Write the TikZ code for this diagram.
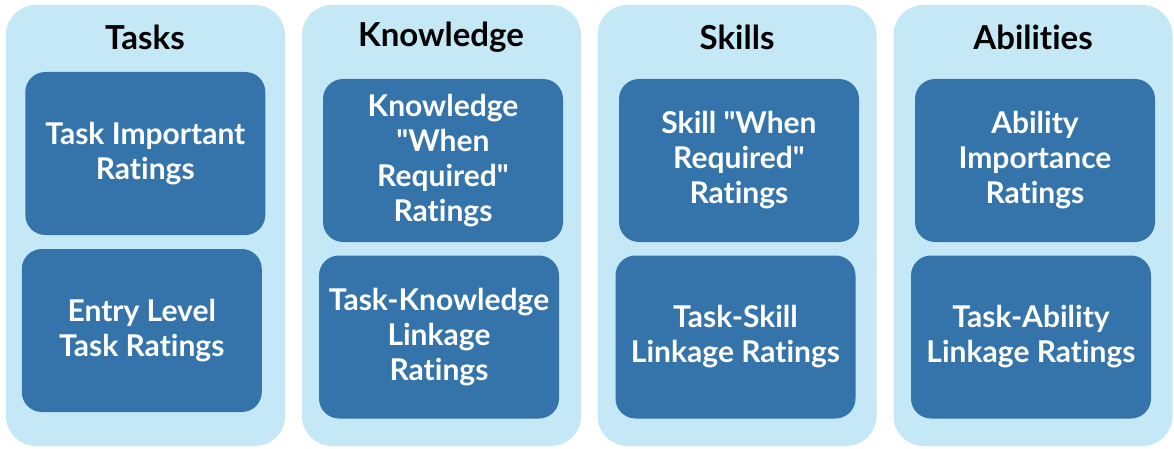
\documentclass[tikz,border=0pt]{standalone}
\usepackage{fontspec}
\setmainfont{Lato}[Ligatures={TeXOff,NoCommon}]
\definecolor{outerblue}{HTML}{C5E8F7}
\definecolor{innerblue}{HTML}{3574AB}
\begin{document}
\begin{tikzpicture}[x=1pt,y=1pt,
  colbox/.style={fill=outerblue, rounded corners=30pt, minimum width=279pt, minimum height=441pt, inner sep=0pt, outer sep=0pt},
  itembox/.style={fill=innerblue, rounded corners=20pt, minimum width=240pt, minimum height=163pt, inner sep=0pt, outer sep=0pt,
    text=white, align=center, font=\fontsize{30pt}{35pt}\selectfont\bfseries},
  title/.style={font=\fontsize{33pt}{38pt}\selectfont\bfseries, text=black, inner sep=0pt}]
\useasboundingbox (0,0) rectangle (1174,448);
\node[colbox] (c1) at (145.5,222.5) {};
\node[colbox] (c2) at (441.5,222.5) {};
\node[colbox] (c3) at (737,222.5) {};
\node[colbox] (c4) at (1033,222.5) {};
\node[title] (t1) at (145,411) {Tasks};
\node[title] (t2) at (441,411) {Knowledge};
\node[title] (t3) at (737,411) {Skills};
\node[title] (t4) at (1033,411) {Abilities};
\node[itembox] (a1) at (145.3,294.5) {Task Important\\Ratings};
\node[itembox] (b1) at (141.8,117.5) {Entry Level\\Task Ratings};
\node[itembox] (a2) at (443,287.5) {Knowledge\\"When\\Required"\\Ratings};
\node[itembox] (b2) at (439,111) {Task-Knowledge\\Linkage\\Ratings};
\node[itembox] (a3) at (739,287.5) {Skill "When\\Required"\\Ratings};
\node[itembox] (b3) at (735.5,111) {Task-Skill\\Linkage Ratings};
\node[itembox] (a4) at (1035,287.5) {Ability\\Importance\\Ratings};
\node[itembox] (b4) at (1031,111) {Task-Ability\\Linkage Ratings};
\end{tikzpicture}
\end{document}
